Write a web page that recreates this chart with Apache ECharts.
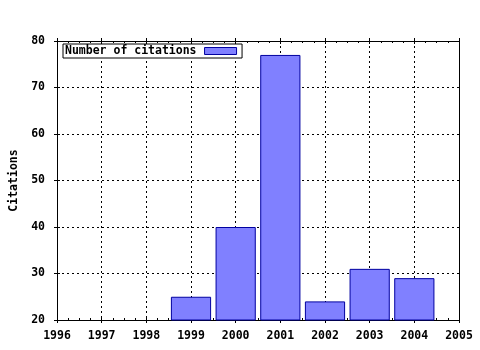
<!DOCTYPE html>
<html>
<head>
<meta charset="utf-8">
<script src="https://cdn.jsdelivr.net/npm/echarts@6/dist/echarts.min.js"></script>
<style>html,body{margin:0;padding:0;background:#fff;}#c{width:480px;height:350px;}</style>
</head>
<body>
<div id="c"></div>
<script>
const years = [1999, 2000, 2001, 2002, 2003, 2004];
const citations = [25, 40, 77, 24, 31, 29];
const seriesName = 'Number of citations';
const yAxisTitle = 'Citations';
const xMin = 1996, xMax = 2005, xStep = 1;
const yMin = 20, yMax = 80, yStep = 10;

const font = {fontFamily: 'DejaVu Sans Mono', fontWeight: 'bold', fontSize: 11.5, color: '#000'};
const black = {color: '#000', width: 1};
const grid = {left: 57, right: 21, top: 41, bottom: 30, outerBoundsMode: 'none', containLabel: false};

function xAx(pos, opts) {
  return Object.assign({
    type: 'value', min: xMin, max: xMax, interval: xStep, position: pos,
    axisLine: {show: false, lineStyle: black},
    axisTick: {show: true, inside: false, length: 3, lineStyle: black},
    minorTick: {show: false},
    axisLabel: {show: false},
    splitLine: {show: false}
  }, opts);
}
function yAx(pos, opts) {
  return Object.assign({
    type: 'value', min: yMin, max: yMax, interval: yStep, position: pos,
    axisLine: {show: false, lineStyle: black},
    axisTick: {show: true, inside: false, length: 3, lineStyle: black},
    minorTick: {show: false},
    axisLabel: {show: false},
    splitLine: {show: false}
  }, opts);
}

const option = {
  animation: false,
  backgroundColor: '#fff',
  grid: grid,
  legend: {
    left: 63, top: 44,
    align: 'right',
    orient: 'horizontal',
    icon: 'rect',
    itemWidth: 32, itemHeight: 7,
    padding: [1, 5, 1, 1],
    borderColor: '#000', borderWidth: 1,
    backgroundColor: '#fff',
    itemStyle: {color: '#8080ff', borderColor: '#0000a0', borderWidth: 1},
    textStyle: Object.assign({}, font, {lineHeight: 11, padding: [0, 3, 0, 1]}),
    data: [seriesName]
  },
  xAxis: [
    xAx('bottom', {
      axisLine: {show: true, lineStyle: black},
      axisLabel: Object.assign({show: true, margin: 10, formatter: v => String(v)}, font),
      splitLine: {show: true, lineStyle: {color: '#000', width: 1, type: [2, 3]}}
    }),
    xAx('bottom', {
      axisTick: {show: true, inside: true, length: 3, lineStyle: black},
      minorTick: {show: true, splitNumber: 4, length: 2, lineStyle: black}
    }),
    xAx('top', {
      axisLine: {show: true, lineStyle: black}
    }),
    xAx('top', {
      axisTick: {show: true, inside: true, length: 3, lineStyle: black},
      minorTick: {show: true, splitNumber: 4, length: 2, lineStyle: black}
    })
  ],
  yAxis: [
    yAx('left', {
      axisLine: {show: true, lineStyle: black},
      axisLabel: Object.assign({show: true, margin: 12}, font),
      splitLine: {show: true, lineStyle: {color: '#000', width: 1, type: [2, 3]}},
      name: yAxisTitle, nameLocation: 'middle', nameGap: 37, nameRotate: 90,
      nameTextStyle: font
    }),
    yAx('left', {
      axisTick: {show: true, inside: true, length: 3, lineStyle: black}
    }),
    yAx('right', {
      axisLine: {show: true, lineStyle: black},
      axisTick: {show: false}
    })
  ],
  series: [{
    name: seriesName,
    type: 'bar',
    xAxisIndex: 0, yAxisIndex: 0,
    barWidth: '90%',
    clip: true,
    itemStyle: {color: '#8080ff', borderColor: '#0000a0', borderWidth: 1},
    data: years.map((y, i) => [y, citations[i]])
  }]
};

const chart = echarts.init(document.getElementById('c'), null, {renderer: 'canvas'});
chart.setOption(option);
</script>
</body>
</html>
